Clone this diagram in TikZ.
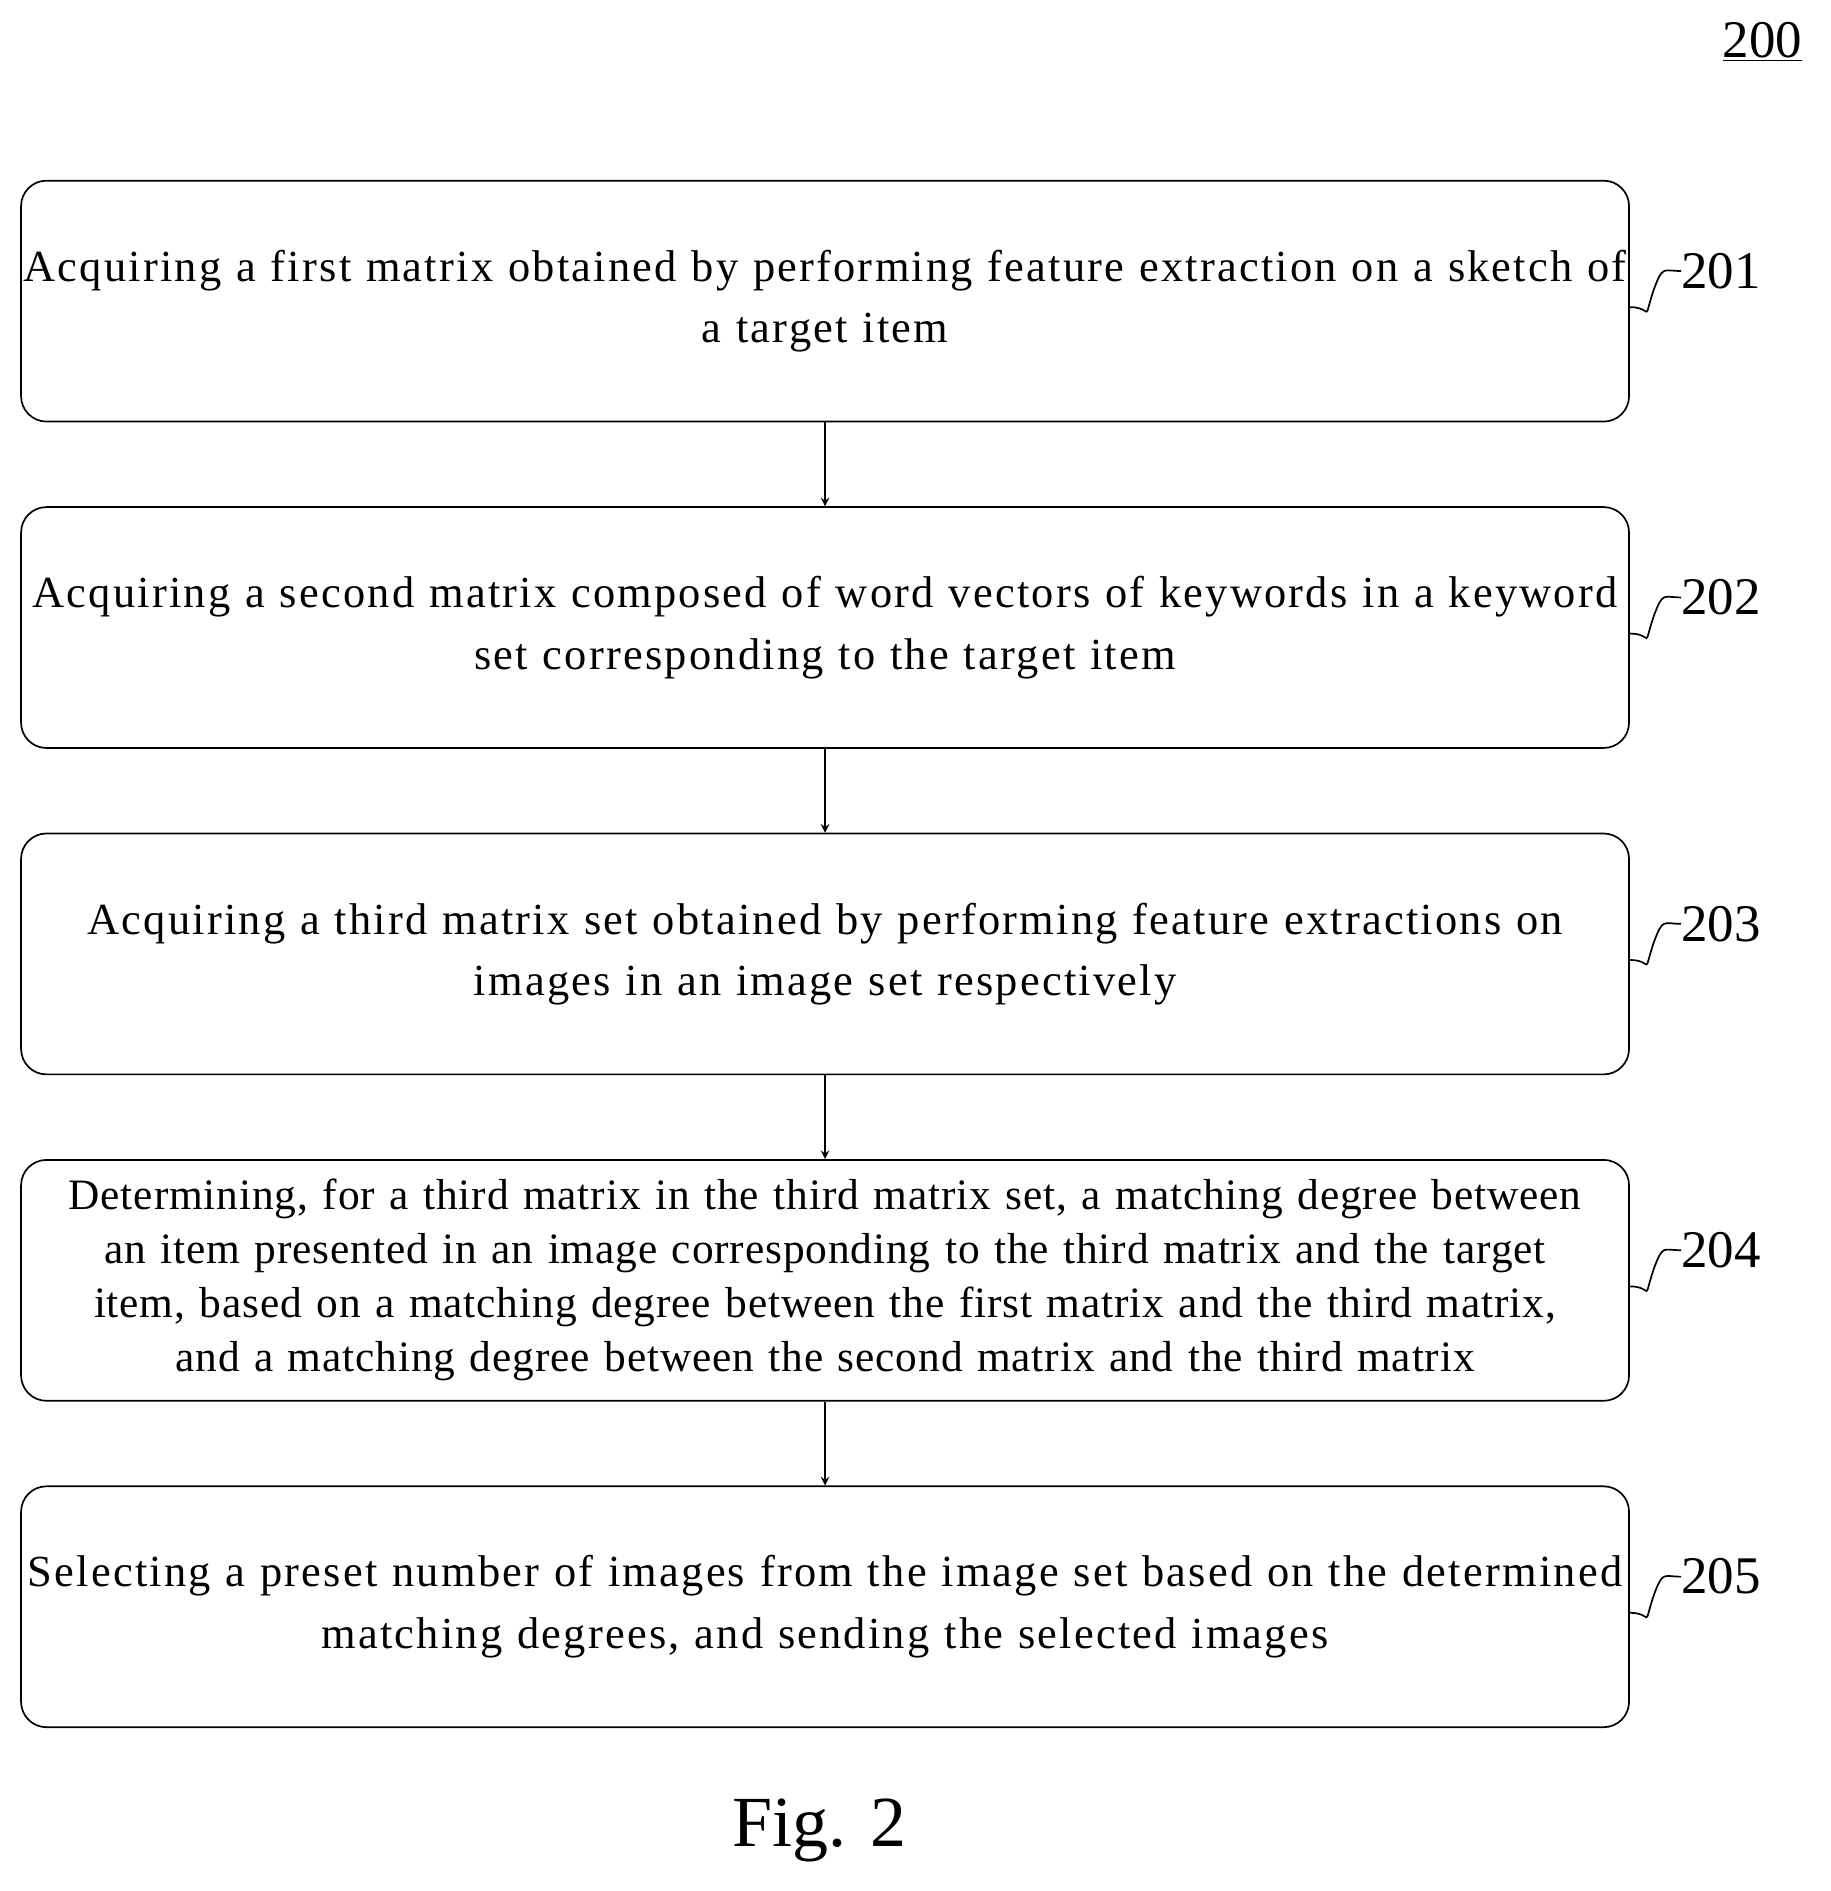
\documentclass[tikz,border=0pt]{standalone}
\usepackage{fontspec}
\setmainfont{Liberation Serif}
\newfontfamily\boxfont[LetterSpace=5]{Liberation Serif}
\newfontfamily\tightfont[LetterSpace=2]{Liberation Serif}
\usetikzlibrary{positioning}
\tikzset{
  stepbox/.style={draw, rounded corners=12pt, line width=0.8pt, inner xsep=0pt, minimum width=26.7cm, minimum height=4cm, text width=26.7cm, align=center, font=\boxfont\fontsize{21}{29}\selectfont},
  steplbl/.style={anchor=west, inner sep=0pt, font=\fontsize{25}{28}\selectfont},
  flow/.style={->, >=stealth, line width=0.8pt}
}
\begin{document}
\begin{tikzpicture}
\useasboundingbox (0,0) rectangle (30.4,-31.4);
\node[steplbl] (num) at (28.6,-0.7) {\underline{200}};
\node[stepbox] (s1) at (13.7,-5.0) {Acquiring a first matrix obtained by performing feature extraction on a sketch of\\ a target item};
\node[stepbox] (s2) at (13.7,-10.42) {Acquiring a second matrix composed of word vectors of keywords in a keyword\\ set corresponding to the target item};
\node[stepbox] (s3) at (13.7,-15.84) {Acquiring a third matrix set obtained by performing feature extractions on\\ images in an image set respectively};
\node[stepbox, font=\tightfont\fontsize{20.5}{25.5}\selectfont] (s4) at (13.7,-21.26) {Determining, for a third matrix in the third matrix set, a matching degree between\\ an item presented in an image corresponding to the third matrix and the target\\ item, based on a matching degree between the first matrix and the third matrix,\\ and a matching degree between the second matrix and the third matrix};
\node[stepbox] (s5) at (13.7,-26.68) {Selecting a preset number of images from the image set based on the determined\\ matching degrees, and sending the selected images};
\draw[flow] (s1) -- (s2);
\draw[flow] (s2) -- (s3);
\draw[flow] (s3) -- (s4);
\draw[flow] (s4) -- (s5);
% step numbers with squiggles
\foreach \s/\n in {s1/201,s2/202,s3/203,s4/204,s5/205}{
  \coordinate (t\n) at ([xshift=0.85cm,yshift=0.5cm]\s.east);
  \draw[line width=0.8pt] ([yshift=-0.1cm]\s.east) .. controls +(0.4,0) and +(-0.2,-0.6) .. ([xshift=0.4cm,yshift=0.2cm]\s.east) .. controls +(0.15,0.4) and +(-0.3,0) .. (t\n);
  \node[steplbl] (l\n) at (t\n) {\n};
}
\node[font=\fontsize{34}{38}\selectfont] (fig) at (13.6,-30.4) {Fig. 2};
\end{tikzpicture}
\end{document}
